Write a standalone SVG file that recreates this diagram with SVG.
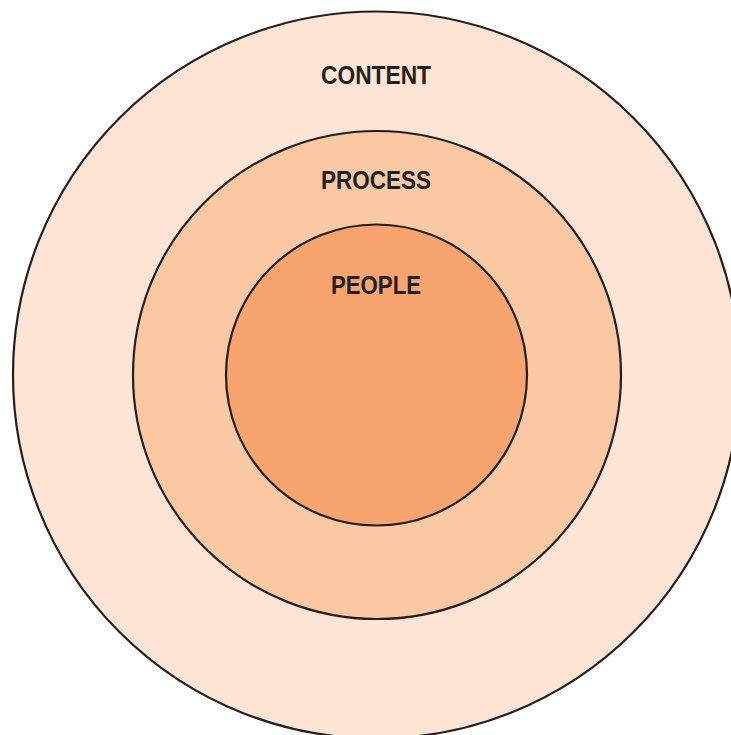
<svg xmlns="http://www.w3.org/2000/svg" width="731" height="735" viewBox="0 0 731 735">
<style>
.ring{stroke:#231F20;stroke-width:2.2}
.lbl{font-family:"Liberation Sans",Arial,sans-serif;font-weight:bold;font-size:25px;fill:#231F20}
</style>
<rect width="731" height="735" fill="#ffffff"/>
<g id="content">
<circle class="ring" cx="376.5" cy="375" r="363.5" fill="#FDE4D4"/>
<text class="lbl" x="321" y="84" textLength="110" lengthAdjust="spacingAndGlyphs">CONTENT</text>
</g>
<g id="process">
<circle class="ring" cx="377" cy="375" r="244" fill="#FBC8A4"/>
<text class="lbl" x="321" y="189" textLength="110" lengthAdjust="spacingAndGlyphs">PROCESS</text>
</g>
<g id="people">
<circle class="ring" cx="376.5" cy="375" r="150.5" fill="#F8A46E"/>
<text class="lbl" x="331" y="294" textLength="90" lengthAdjust="spacingAndGlyphs">PEOPLE</text>
</g>
<g id="connectors"/>
</svg>
